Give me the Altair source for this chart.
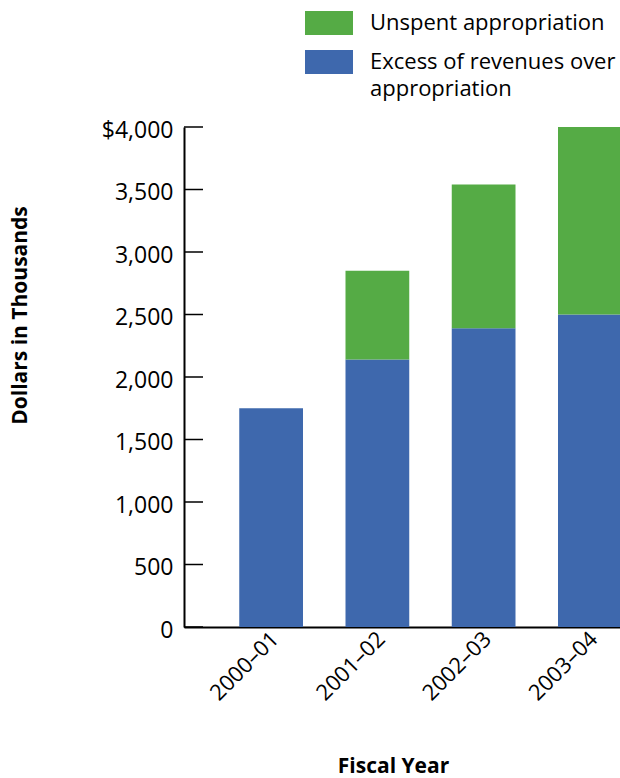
import altair as alt
import pandas as pd

years = ["2000–01", "2001–02", "2002–03", "2003–04"]
excess = [1750, 2140, 2390, 2500]
unspent = [0, 710, 1150, 1500]
series = ["Excess of revenues over appropriation", "Unspent appropriation"]
colors = ["#3E68AD", "#55AB45"]
ytick_values = [0, 500, 1000, 1500, 2000, 2500, 3000, 3500, 4000]

rows = []
for y, e, u in zip(years, excess, unspent):
    rows.append({"year": y, "series": series[0], "value": e, "ord": 0})
    if u > 0:
        rows.append({"year": y, "series": series[1], "value": u, "ord": 1})
df = pd.DataFrame(rows)
ticks_df = pd.DataFrame({"value": ytick_values})

FONT = "Open Sans"

y_axis = alt.Axis(
    title="Dollars in Thousands",
    values=ytick_values,
    ticks=False,
    grid=False,
    domainColor="black",
    domainWidth=2,
    labelExpr="datum.value == 4000 ? '$4,000' : format(datum.value, ',')",
    labelFontSize=23,
    labelColor="black",
    labelPadding=11,
    labelBaseline="middle",
    labelOffset=3,
    titleFontSize=21,
    titleFontWeight="bold",
    titleColor="black",
    titleAngle=270,
    titleX=-164,
    titleY=188,
    titleAlign="center",
    titleBaseline="middle",
)
y_scale = alt.Scale(domain=[0, 4000], nice=False)

bars = alt.Chart(df).mark_bar().encode(
    x=alt.X(
        "year:N",
        sort=years,
        scale=alt.Scale(range=[0, 493], paddingInner=0.4, paddingOuter=0.52),
        axis=alt.Axis(
            title="Fiscal Year",
            ticks=False,
            domainColor="black",
            domainWidth=2,
            labelAngle=315,
            labelAlign="right",
            labelBaseline="top",
            labelPadding=1,
            labelOffset=-3,
            labelFontSize=22,
            labelColor="black",
            titleFontSize=21,
            titleFontWeight="bold",
            titleColor="black",
            titleX=209,
            titleY=145,
            titleAlign="center",
            titleBaseline="alphabetic",
        ),
    ),
    y=alt.Y("value:Q", stack="zero", scale=y_scale, axis=y_axis),
    color=alt.Color(
        "series:N",
        scale=alt.Scale(domain=[series[1], series[0]], range=[colors[1], colors[0]]),
        legend=alt.Legend(
            title=None,
            orient="none",
            legendX=121,
            legendY=-128,
            symbolType="M-1,-0.5H1V0.5H-1Z",
            symbolSize=2304,
            symbolStrokeWidth=0,
            symbolOpacity=1,
            labelFontSize=22,
            labelColor="black",
            labelOffset=17,
            labelLimit=400,
            rowPadding=3,
            labelExpr="datum.label == 'Excess of revenues over appropriation' ? ['Excess of revenues over', 'appropriation'] : datum.label",
        ),
    ),
    order=alt.Order("ord:Q", sort="ascending"),
)

ticks = alt.Chart(ticks_df).mark_rule(color="black", strokeWidth=1.5).encode(
    y=alt.Y("value:Q", scale=y_scale, axis=y_axis),
    x=alt.value(0),
    x2=alt.value(19),
)

chart = alt.layer(bars, ticks).properties(
    width=436,
    height=500,
    padding={"left": 184, "top": 127, "right": 0, "bottom": 151},
    autosize=alt.AutoSizeParams(type="none"),
).configure(
    font=FONT,
    style={"guide-label": {"lineHeight": 27}},
).configure_view(
    stroke=None,
)

chart.save("out.html", embed_options={"renderer": "svg", "actions": False})
